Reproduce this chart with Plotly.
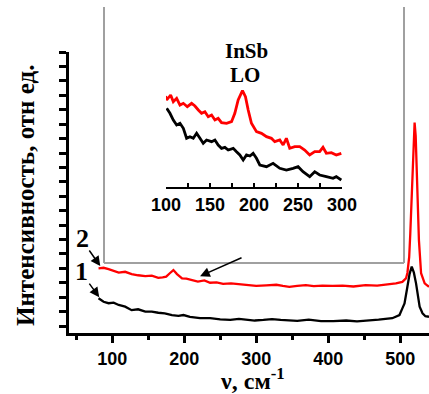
import plotly.graph_objects as go

W, H = 429, 394

# ---- main spectrum data (x: cm^-1, y: arb. units) ----
red_x = [81, 88, 95, 102, 109, 118, 127, 136, 146, 155, 164, 170, 175, 180, 185, 190, 197, 203, 210, 219,
         228, 236, 245, 254, 265, 277, 288, 300, 314, 328, 337, 346, 357, 369, 380, 392, 406, 420, 435, 452,
         468, 482, 494, 503, 508, 510, 512.5, 514, 516, 517, 518.5, 520, 521.5, 523, 524.5, 526, 529, 532,
         534, 537, 540]
red_y = [20.0, 20.2, 19.7, 19.2, 18.5, 18.8, 18.0, 17.6, 17.3, 17.5, 16.7, 16.9, 17.1, 18.3, 19.4, 18.0, 16.5,
         16.4, 15.9, 15.4, 15.8, 15.0, 15.1, 14.6, 14.8, 14.5, 14.2, 13.9, 14.1, 14.3, 13.9, 13.6, 13.9, 14.2,
         13.8, 14.0, 13.9, 14.0, 13.7, 14.2, 14.0, 14.3, 14.8, 15.3, 16.5, 18.4, 24.0, 32.0, 45.0, 55.0, 66.0,
         70.6, 66.0, 55.0, 42.0, 29.8, 18.3, 15.9, 14.8, 14.2, 13.6]

blk_x = [81, 88, 95, 102, 109, 118, 127, 136, 146, 155, 164, 173, 183, 192, 199, 208, 222, 236, 250, 264,
         276, 287, 298, 310, 322, 334, 346, 357, 373, 390, 407, 425, 440, 452, 470, 489, 499, 503, 506, 510,
         513, 516, 519, 522, 524.5, 527, 531, 535, 540]
blk_y = [9.6, 8.4, 7.9, 8.1, 7.3, 6.7, 5.5, 5.8, 5.0, 5.0, 4.6, 4.4, 3.8, 3.5, 3.8, 3.2, 2.7, 2.7, 2.3, 2.1,
         2.5, 2.3, 1.9, 2.1, 2.4, 2.1, 1.9, 1.8, 2.2, 1.7, 1.7, 1.9, 1.6, 1.8, 2.2, 2.7, 3.8, 6.1, 7.8, 13.6,
         18.0, 20.6, 18.5, 14.8, 10.0, 6.7, 4.4, 3.4, 3.2]

# ---- inset data (100-300 cm^-1) ----
in_red_x = [99.6, 100.8, 105.3, 108.3, 112.1, 115.9, 119.7, 124.2, 129.1, 132.9, 136.7, 140.4, 144.2, 148.0,
            151.8, 155.6, 159.3, 163.1, 168.8, 174.5, 178.2, 182.0, 186.9, 190.3, 193.4, 197.1, 202.8, 208.5,
            214.2, 219.8, 223.6, 229.3, 233.1, 236.8, 240.6, 246.3, 252.0, 257.6, 263.3, 269.0, 274.6, 278.4,
            282.2, 287.9, 293.5, 299.2]
in_red_y = [91.0, 87.0, 92.0, 85.3, 88.7, 82.0, 83.7, 80.3, 83.7, 81.0, 77.0, 73.7, 75.3, 70.3, 72.0, 67.0,
            68.7, 64.3, 63.7, 65.3, 73.7, 87.0, 96.3, 90.3, 77.0, 63.7, 55.3, 53.7, 50.3, 48.7, 45.3, 47.0,
            42.0, 48.7, 38.7, 40.3, 40.3, 37.0, 32.0, 35.3, 35.3, 39.7, 33.7, 34.3, 32.0, 33.7]

in_blk_x = [100.8, 104.5, 108.3, 112.1, 115.9, 119.7, 123.4, 127.2, 131.0, 134.8, 138.6, 142.3, 146.1, 151.8,
            155.6, 159.3, 163.1, 166.9, 170.7, 176.4, 180.1, 183.9, 187.7, 191.5, 195.3, 199.0, 202.8, 206.6,
            214.2, 221.7, 229.3, 236.8, 244.4, 250.1, 255.7, 263.3, 269.0, 274.6, 282.2, 289.8, 293.5, 299.2]
in_blk_y = [78.7, 73.7, 67.0, 62.0, 63.7, 58.7, 48.7, 50.3, 48.7, 53.7, 48.7, 43.7, 47.0, 45.3, 47.0, 42.0,
            38.7, 39.7, 37.0, 38.7, 35.3, 32.0, 27.0, 32.0, 31.0, 33.7, 28.7, 22.0, 20.3, 23.7, 18.7, 17.0,
            18.7, 20.3, 15.3, 10.3, 15.3, 12.0, 10.3, 8.7, 10.3, 7.0]

main_ticks = [100, 200, 300, 400, 500]
inset_ticks = [100, 150, 200, 250, 300]

SERIF = "Liberation Serif"
SANS = "Liberation Sans"


def px(x):
    return x / W


def py(y):
    return 1 - y / H


fig = go.Figure()
fig.add_trace(go.Scatter(x=red_x, y=red_y, mode="lines", line=dict(color="#ff0000", width=2.3),
                         xaxis="x", yaxis="y", showlegend=False))
fig.add_trace(go.Scatter(x=blk_x, y=blk_y, mode="lines", line=dict(color="#000000", width=2.3),
                         xaxis="x", yaxis="y", showlegend=False))
fig.add_trace(go.Scatter(x=in_red_x, y=in_red_y, mode="lines", line=dict(color="#ff0000", width=2.8),
                         xaxis="x2", yaxis="y2", showlegend=False))
fig.add_trace(go.Scatter(x=in_blk_x, y=in_blk_y, mode="lines", line=dict(color="#000000", width=2.8),
                         xaxis="x2", yaxis="y2", showlegend=False))

fig.update_layout(
    width=W, height=H, margin=dict(l=0, r=0, t=0, b=0, autoexpand=False),
    paper_bgcolor="white", plot_bgcolor="rgba(0,0,0,0)",
    xaxis=dict(domain=[px(69), 1], range=[40, 540], showgrid=False, zeroline=False, automargin=False,
               showline=True, linecolor="black", linewidth=3,
               ticks="outside", ticklen=7, tickwidth=2.5, tickcolor="black",
               tickvals=main_ticks, ticktext=[str(v) for v in main_ticks],
               minor=dict(dtick=50, tick0=0, ticks="outside", ticklen=4, tickwidth=2.5, tickcolor="black"),
               tickfont=dict(family=SANS, size=18, color="black", weight="bold"), anchor="y"),
    yaxis=dict(domain=[py(333), py(52)], range=[-2.43, 95.05], showgrid=False, zeroline=False,
               automargin=False, showline=True, linecolor="black", linewidth=3,
               ticks="outside", ticklen=7, tickwidth=2.5, tickcolor="black",
               tick0=0, dtick=5, showticklabels=False, anchor="x"),
    xaxis2=dict(domain=[px(166), px(342)], range=[100, 300], showgrid=False, zeroline=False,
                automargin=False, showline=True, linecolor="black", linewidth=2,
                ticks="inside", ticklen=4, tickwidth=1.5, tickcolor="black",
                tickvals=inset_ticks, ticktext=[str(v) for v in inset_ticks],
                minor=dict(dtick=25, tick0=0, ticks="inside", ticklen=4, tickwidth=1.5, tickcolor="black"),
                tickfont=dict(family=SANS, size=18, color="black", weight="bold"), anchor="y2"),
    yaxis2=dict(domain=[py(187), py(87)], range=[0, 100], visible=False, automargin=False, anchor="x2"),
)

# inset frame (left, right, bottom sides)
frame = dict(type="line", xref="paper", yref="paper", line=dict(color="#a0a0a0", width=2))
fig.add_shape(x0=px(104), x1=px(104), y0=py(7), y1=py(263), **frame)
fig.add_shape(x0=px(404), x1=px(404), y0=py(7), y1=py(263), **frame)
fig.add_shape(x0=px(104), x1=px(404), y0=py(263), y1=py(263), **frame)

serif_b = lambda s: dict(family=SERIF, size=s, color="black", weight="bold")

# texts
fig.add_annotation(x=px(246), y=py(51), xref="paper", yref="paper", text="InSb", showarrow=False,
                   font=serif_b(21), xanchor="center", yanchor="middle")
fig.add_annotation(x=px(245), y=py(75), xref="paper", yref="paper", text="LO", showarrow=False,
                   font=serif_b(21), xanchor="center", yanchor="middle")
fig.add_annotation(x=px(82), y=py(238), xref="paper", yref="paper", text="2", showarrow=False,
                   font=serif_b(26), xanchor="center", yanchor="middle")
fig.add_annotation(x=px(81), y=py(271), xref="paper", yref="paper", text="1", showarrow=False,
                   font=serif_b(26), xanchor="center", yanchor="middle")
fig.add_annotation(x=px(26), y=py(196), xref="paper", yref="paper", text="Интенсивность, отн ед.",
                   showarrow=False, textangle=-90, font=serif_b(25), xanchor="center", yanchor="middle")
fig.add_annotation(x=px(252), y=py(379), xref="paper", yref="paper", text="ν, см<sup>-1</sup>",
                   showarrow=False, font=serif_b(24), xanchor="center", yanchor="middle")

# arrows
arrow = dict(showarrow=True, arrowhead=2, arrowsize=1.3, arrowwidth=1.5, arrowcolor="black", text="",
             xref="x", yref="y")
fig.add_annotation(x=83.4, y=20.8, ax=-12, ay=-17, **arrow)
fig.add_annotation(x=82, y=10.0, ax=-11, ay=-15, **arrow)
fig.add_annotation(x=222, y=17.3, ax=43, ay=-19, **arrow)

fig.write_html("out.html", config={"displayModeBar": False},
               post_script="document.body.style.margin='0';document.body.style.padding='0';")
